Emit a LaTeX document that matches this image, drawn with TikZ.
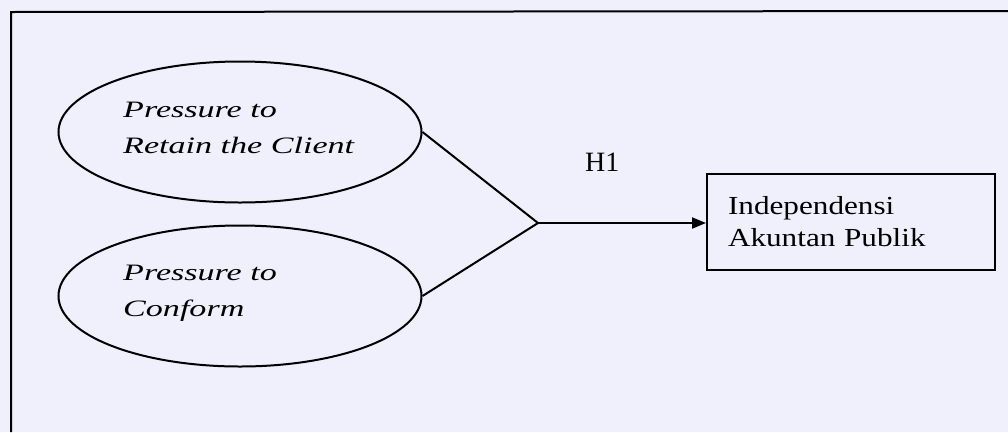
\documentclass[tikz,border=0pt]{standalone}
\usepackage{fontspec}
\setmainfont{Liberation Serif}
\newfontfamily\elfont{Liberation Serif}[FakeStretch=1.45]
\newfontfamily\boxfont{Liberation Serif}[FakeStretch=1.2]
\usetikzlibrary{shapes.geometric,arrows.meta}
\definecolor{wm}{RGB}{240,240,252}
\tikzset{
  line/.style={line width=2pt, black},
  oval/.style={ellipse, draw, line width=2pt, minimum width=363pt, minimum height=141pt, inner sep=0pt},
  ovaltext/.style={anchor=north west, align=left, inner sep=0pt, font=\elfont\itshape\fontsize{23.5}{36}\selectfont},
  varbox/.style={draw, line width=2pt, minimum width=288pt, minimum height=96pt, text width=246pt, inner xsep=21pt, inner ysep=0pt, align=left, font=\boxfont\fontsize{26}{32}\selectfont},
  lab/.style={anchor=base west, inner sep=0pt, font=\fontsize{28}{30}\selectfont}
}
\begin{document}
\begin{tikzpicture}[x=1pt,y=-1pt]
\useasboundingbox (0,0) rectangle (1008,432);
\fill[wm] (0,0) rectangle (1008,432);
% frame (only top and left edges visible)
\coordinate (fbl) at (11,432);
\coordinate (ftl) at (11,12);
\coordinate (ftr) at (1008,11);
\draw[line] (fbl) -- (ftl) -- (ftr);
% ellipses
\node[oval] (e1) at (240,132) {};
\node[oval] (e2) at (240,296) {};
\node[ovaltext] (t1) at (123,102) {Pressure to\\Retain the Client};
\node[ovaltext] (t2) at (123,265) {Pressure to\\Conform};
% dependent variable
\node[varbox] (dv) at (851,222) {Independensi\\Akuntan Publik};
% junction
\coordinate (j) at (538,223);
\draw[line] (e1.east) -- (j) -- (e2.east);
\draw[line, -{Triangle[length=14pt,width=11pt]}] (j) -- (j -| dv.west);
\node[lab] (h1) at (585,171) {H1};
\end{tikzpicture}
\end{document}
